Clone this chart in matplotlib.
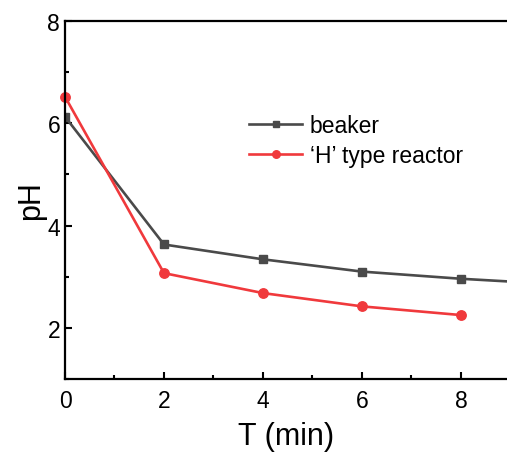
import matplotlib
matplotlib.use("Agg")
import matplotlib.pyplot as plt
from matplotlib.ticker import MultipleLocator

plt.rcParams["font.family"] = ["Liberation Sans", "DejaVu Sans"]

# data
t_beaker = [0, 2, 4, 6, 8, 10]
ph_beaker = [6.13, 3.63, 3.34, 3.10, 2.96, 2.85]
t_reactor = [0, 2, 4, 6, 8]
ph_reactor = [6.52, 3.07, 2.68, 2.42, 2.25]

fig = plt.figure(figsize=(5.07, 4.56), dpi=100)
ax = fig.add_axes([65 / 507, 76 / 456, 442 / 507, 358 / 456])

ax.plot(t_beaker, ph_beaker, color="#4a4a4a", lw=1.9, marker="s", ms=5.8,
        label="beaker", clip_on=True)
ax.plot(t_reactor, ph_reactor, color="#f0393c", lw=1.9, marker="o", ms=6.8,
        label="\u2018H\u2019 type reactor", clip_on=False)

ax.set_xlim(0, 8.93)
ax.set_ylim(1, 8)
ax.xaxis.set_major_locator(MultipleLocator(2))
ax.xaxis.set_minor_locator(MultipleLocator(1))
ax.yaxis.set_major_locator(MultipleLocator(2))
ax.yaxis.set_minor_locator(MultipleLocator(1))
ax.tick_params(which="both", direction="in", width=1.5, labelsize=16.5)
ax.tick_params(which="major", length=5)
ax.tick_params(which="minor", length=3)
ax.tick_params(axis="x", pad=7)
for s in ["left", "bottom", "top"]:
    ax.spines[s].set_linewidth(1.6)
ax.spines["right"].set_visible(False)

ax.set_xlabel("T (min)", fontsize=22, labelpad=7)
ax.set_ylabel("pH", fontsize=22, labelpad=1)

ax.legend(loc="upper left", bbox_to_anchor=(240 / 507, 1 - 106 / 456),
          bbox_transform=fig.transFigure, frameon=False, fontsize=16.5,
          handlelength=2.3, handletextpad=0.35, labelspacing=0.3,
          markerscale=0.8, borderaxespad=0)

fig.savefig("out.png", dpi=100)
